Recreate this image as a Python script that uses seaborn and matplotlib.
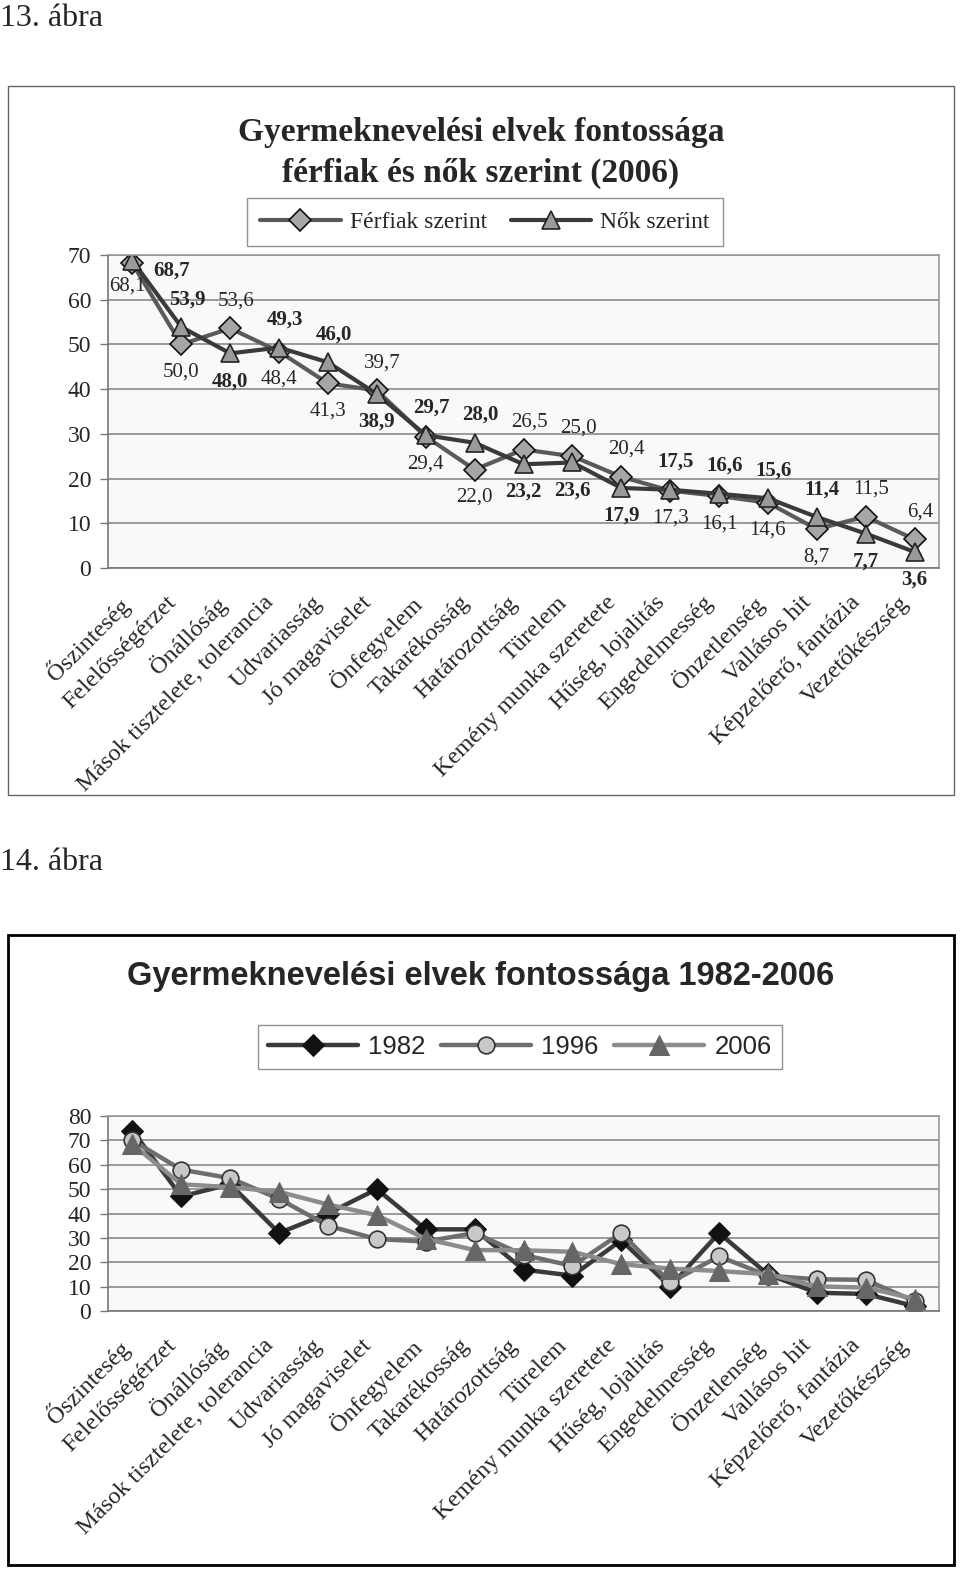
import numpy as np
import matplotlib.pyplot as plt
import matplotlib.patches as mpatches
import matplotlib.transforms as mtransforms
import seaborn as sns

categories = ["Őszinteség", "Felelősségérzet", "Önállóság", "Mások tisztelete, tolerancia",
              "Udvariasság", "Jó magaviselet", "Önfegyelem", "Takarékosság", "Határozottság",
              "Türelem", "Kemény munka szeretete", "Hűség, lojalitás", "Engedelmesség",
              "Önzetlenség", "Vallásos hit", "Képzelőerő, fantázia", "Vezetőkészség"]

# 13. ábra - 2006, nemek szerint
ferfiak = [68.1, 50.0, 53.6, 48.4, 41.3, 39.7, 29.4, 22.0, 26.5, 25.0, 20.4, 17.3, 16.1, 14.6, 8.7, 11.5, 6.4]
nok = [68.7, 53.9, 48.0, 49.3, 46.0, 38.9, 29.7, 28.0, 23.2, 23.6, 17.9, 17.5, 16.6, 15.6, 11.4, 7.7, 3.6]

# 14. ábra - 1982, 1996, 2006 (leolvasott becslések)
ev_1982 = [74, 47, 52, 32, 40, 50, 33.5, 33.5, 17, 14.5, 29, 10, 32, 15, 7.5, 7, 2]
ev_1996 = [70, 58, 54.5, 46, 35, 29.5, 28.5, 32, 23, 18.5, 32, 11.7, 22.4, 14.5, 13, 12.8, 4]
ev_2006 = [68.4, 52, 50.8, 48.9, 43.7, 39.3, 29.6, 25, 24.9, 24.3, 19.2, 17.4, 16.4, 15.1, 10.1, 9.6, 5.0]

sns.set_style("white")
plt.rcParams['font.family'] = ['Liberation Serif', 'DejaVu Serif']

W, H = 960, 1572
fig = plt.figure(figsize=(W / 100, H / 100), dpi=100)


def box(x0, y0, x1, y1):
    return [x0 / W, 1 - y1 / H, (x1 - x0) / W, (y1 - y0) / H]


def fx(x):
    return x / W


def fy(y):
    return 1 - y / H


def frame(x0, y0, x1, y1, color, lw):
    fig.add_artist(mpatches.Rectangle((fx(x0), fy(y1)), (x1 - x0) / W, (y1 - y0) / H,
                                      transform=fig.transFigure, fill=False,
                                      edgecolor=color, linewidth=lw))


def style_axes(ax, ymax):
    ax.set_xlim(-0.5, len(categories) - 0.5)
    ax.set_ylim(0, ymax)
    ax.set_yticks(range(0, ymax + 1, 10))
    ax.set_facecolor('#f9f9f9')
    ax.grid(axis='y', color='#8a8a8a', linewidth=1.2)
    ax.set_axisbelow(True)
    ax.set_xticks(np.arange(len(categories)))
    ax.set_xticks(np.arange(-0.5, len(categories), 1), minor=True)
    ax.set_xticklabels(categories, rotation=45, ha='right', va='top',
                       rotation_mode='anchor', fontsize=17.5)
    ax.tick_params(axis='x', which='major', length=0, pad=16)
    ax.tick_params(axis='x', which='minor', length=6, color='#777', width=1)
    ax.tick_params(axis='y', length=6, color='#777', width=1, pad=6, labelsize=17, left=True)
    shift = mtransforms.ScaledTranslation(-0.16, -0.02, fig.dpi_scale_trans)
    for t in ax.get_xticklabels():
        t.set_transform(t.get_transform() + shift)
    for s in ax.spines.values():
        s.set_color('#999')
        s.set_linewidth(1.2)
    ax.spines['left'].set_color('#777')
    ax.spines['bottom'].set_color('#777')
    ax.set_xlabel('')
    ax.set_ylabel('')


x = np.arange(len(categories))

# ---- 13. ábra ----
fig.text(fx(0), fy(18), '13. ábra', ha='left', va='center', fontsize=23)
frame(8, 86, 954, 795, '#666', 1)
fig.text(fx(481), fy(133), 'Gyermeknevelési elvek fontossága', ha='center', va='center',
         fontsize=24, weight='bold')
fig.text(fx(481), fy(173), 'férfiak és nők szerint (2006)', ha='center', va='center',
         fontsize=24, weight='bold')

ax1 = fig.add_axes(box(108, 255, 939, 568))
sns.lineplot(x=x, y=ferfiak, ax=ax1, sort=False, color='#5a5a5a', linewidth=3,
             marker='D', markersize=11, markerfacecolor='#a6a6a6', markeredgecolor='#111111',
             markeredgewidth=1.2, label='Férfiak szerint')
sns.lineplot(x=x, y=nok, ax=ax1, sort=False, color='#3a3a3a', linewidth=3,
             marker='^', markersize=13, markerfacecolor='#9a9a9a', markeredgecolor='#222222',
             markeredgewidth=1.2, label='Nők szerint')
style_axes(ax1, 70)

h, l = ax1.get_legend_handles_labels()
ax1.legend(h, l, loc='center', bbox_to_anchor=(fx(485), fy(222)), bbox_transform=fig.transFigure,
           ncol=2, frameon=True, fancybox=False, edgecolor='#777', fontsize=17,
           handlelength=3.4, columnspacing=1.0, borderpad=0.55, handletextpad=0.4)


def lab(v):
    return f"{v:.1f}".replace('.', ',')


for i in range(len(categories)):
    f, n = ferfiak[i], nok[i]
    if i == 0:
        off_f, off_n = (-4, -16), (28, -7)
    elif f >= n:
        off_f, off_n = (4, 20), (0, -20)
    else:
        off_f, off_n = (0, -20), (4, 20)
    ax1.annotate(lab(f), (i, f), xytext=off_f, textcoords='offset points',
                 ha='center', va='center', fontsize=15)
    ax1.annotate(lab(n), (i, n), xytext=off_n, textcoords='offset points',
                 ha='center', va='center', fontsize=15, weight='bold')

# ---- 14. ábra ----
fig.text(fx(0), fy(863), '14. ábra', ha='left', va='center', fontsize=23)
frame(8, 935, 954, 1565, '#000', 2)
fig.text(fx(481), fy(977), 'Gyermeknevelési elvek fontossága 1982-2006', ha='center', va='center',
         fontsize=23.5, weight='bold', family='Liberation Sans')

ax2 = fig.add_axes(box(108, 1116, 939, 1311))
sns.lineplot(x=x, y=ev_1982, ax=ax2, sort=False, color='#3a3a3a', linewidth=3.2,
             marker='D', markersize=11, markerfacecolor='#111111', markeredgecolor='#111111',
             label='1982')
sns.lineplot(x=x, y=ev_1996, ax=ax2, sort=False, color='#6e6e6e', linewidth=3.2,
             marker='o', markersize=12, markerfacecolor='#c8c8c8', markeredgecolor='#333333',
             markeredgewidth=1.2, label='1996')
sns.lineplot(x=x, y=ev_2006, ax=ax2, sort=False, color='#8c8c8c', linewidth=3.2,
             marker='^', markersize=14, markerfacecolor='#666666', markeredgecolor='#666666',
             label='2006')
style_axes(ax2, 80)

h, l = ax2.get_legend_handles_labels()
ax2.legend(h, l, loc='center', bbox_to_anchor=(fx(520), fy(1047)), bbox_transform=fig.transFigure,
           ncol=3, frameon=True, fancybox=False, edgecolor='#777',
           prop={'family': 'Liberation Sans', 'size': 18.5},
           handlelength=3.5, columnspacing=0.6, borderpad=0.4, handletextpad=0.4)

fig.savefig('out.png', dpi=100)
